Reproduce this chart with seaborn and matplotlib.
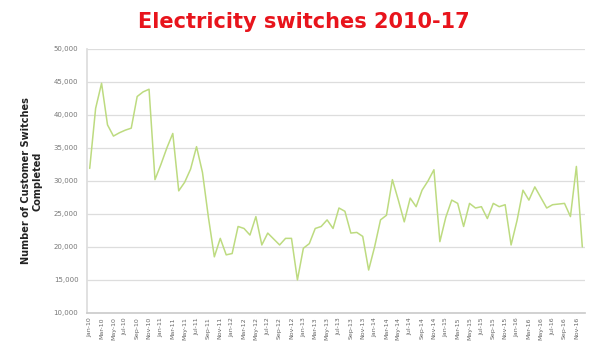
import pandas as pd
import seaborn as sns
import matplotlib.pyplot as plt
from matplotlib.ticker import FuncFormatter

sns.set_theme(style="white")
plt.rcParams['font.family'] = ['DejaVu Sans']

# monthly switches, Jan-10 .. Dec-16
month_names = ['Jan', 'Feb', 'Mar', 'Apr', 'May', 'Jun',
               'Jul', 'Aug', 'Sep', 'Oct', 'Nov', 'Dec']
years = ['10', '11', '12', '13', '14', '15', '16']
months = [m + '-' + y for y in years for m in month_names]

switches = [
    31900, 41000, 44800, 38500, 36800, 37300, 37700, 38000, 42800, 43500, 43900, 30200,
    32500, 35000, 37200, 28500, 29800, 31800, 35200, 31300, 24500, 18500, 21300, 18800,
    19000, 23100, 22800, 21800, 24600, 20300, 22100, 21200, 20300, 21300, 21300, 15000,
    19800, 20500, 22800, 23100, 24100, 22800, 25900, 25400, 22100, 22200, 21600, 16500,
    20000, 24100, 24800, 30200, 27100, 23800, 27400, 26100, 28600, 30000, 31700, 20800,
    24500, 27100, 26600, 23100, 26600, 25900, 26100, 24300, 26600, 26100, 26400, 20300,
    24000, 28600, 27100, 29100, 27500, 25900, 26400, 26500, 26600, 24600, 32200, 20000,
]

df = pd.DataFrame({'idx': range(len(months)), 'month': months, 'switches': switches})

fig = plt.figure(figsize=(5.9, 3.45), dpi=100)
ax = fig.add_axes([0.147, 0.093, 0.845, 0.765])

sns.lineplot(data=df, x='idx', y='switches', color='#bddb80', linewidth=1.1, ax=ax)

ax.set_ylim(10000, 50000)
ax.set_yticks(range(10000, 50001, 5000))
ax.yaxis.set_major_formatter(FuncFormatter(lambda v, p: f'{int(v):,}'))
ax.set_xlim(-0.5, len(months) - 0.5)
ax.set_xticks(df['idx'][::2])
ax.set_xticklabels(df['month'][::2], rotation=90)
ax.tick_params(axis='y', labelsize=5, colors='#777777', length=0, pad=6)
ax.tick_params(axis='x', labelsize=4.5, colors='#666666', length=0, pad=3)

ax.grid(axis='y', color='#dddddd', linewidth=0.9)
for s in ['top', 'right']:
    ax.spines[s].set_visible(False)
ax.spines['left'].set_color('#dddddd')
ax.spines['bottom'].set_color('#cccccc')

ax.set_xlabel('')
ax.set_ylabel('Number of Customer Switches\nCompleted', fontsize=7,
              fontweight='bold', color='#222222', labelpad=8)

fig.text(0.515, 0.935, 'Electricity switches 2010-17', ha='center', va='center',
         fontsize=15, fontweight='bold', color='#e8141c')

fig.savefig('out.png', dpi=100)
